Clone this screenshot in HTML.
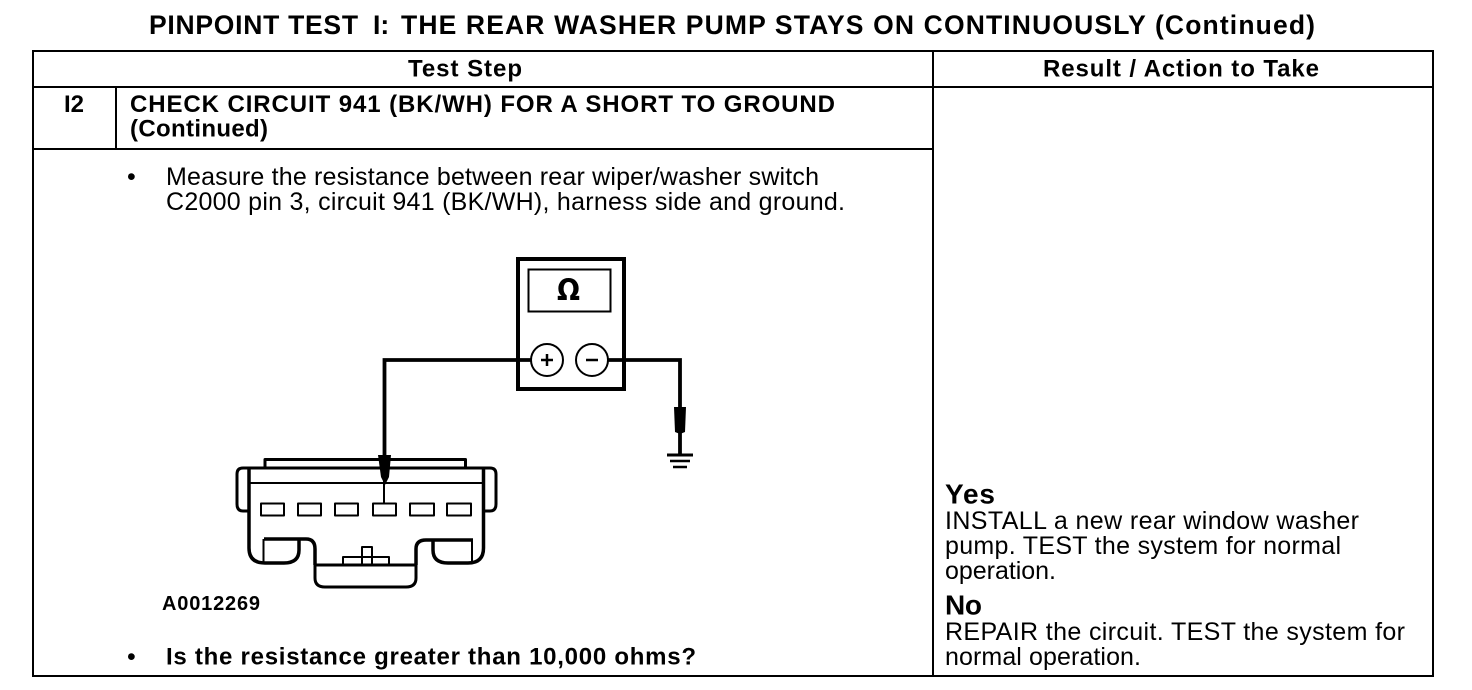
<!DOCTYPE html>
<html>
<head>
<meta charset="utf-8">
<style>
html,body{margin:0;padding:0;background:#fff;width:1472px;height:690px;overflow:hidden}
svg{display:block}
text{font-family:"Liberation Sans",sans-serif;fill:#000;stroke:none}
.b{font-weight:bold}
.s{font-size:25px}
</style>
</head>
<body>
<svg width="1472" height="690" viewBox="0 0 1472 690" xmlns="http://www.w3.org/2000/svg">
<rect width="1472" height="690" fill="#fff"/>

<!-- Title -->
<text class="b" x="149" y="34" font-size="26.500" textLength="209">PINPOINT TEST</text>
<text class="b" x="373" y="34" font-size="26.500">I:</text>
<text class="b" x="401" y="34" font-size="26.500" textLength="914">THE REAR WASHER PUMP STAYS ON CONTINUOUSLY (Continued)</text>

<!-- Table -->
<g fill="none" stroke="#000" stroke-width="2">
<rect x="33" y="51" width="1400" height="625"/>
<path d="M33 87H1433M933 51V676M116 87V149M33 149H933"/>
</g>

<text class="b" x="408" y="76.500" font-size="24" textLength="114">Test Step</text>
<text class="b" x="1043" y="76.500" font-size="24" textLength="276">Result / Action to Take</text>
<text class="b" x="64" y="112" font-size="24" textLength="20">I2</text>
<text class="b" x="130" y="112" font-size="24" textLength="705">CHECK CIRCUIT 941 (BK/WH) FOR A SHORT TO GROUND</text>
<text class="b" x="130" y="136.500" font-size="24" textLength="138">(Continued)</text>

<text class="s" x="127" y="185">•</text>
<text class="s" x="166" y="185" textLength="653">Measure the resistance between rear wiper/washer switch</text>
<text class="s" x="166" y="210" textLength="679">C2000 pin 3, circuit 941 (BK/WH), harness side and ground.</text>

<!-- Meter -->
<rect x="518" y="259" width="106" height="130" fill="none" stroke="#000" stroke-width="4"/>
<rect x="528.500" y="269.500" width="82" height="42" fill="none" stroke="#000" stroke-width="2"/>
<text x="557" y="300" font-size="29" font-weight="bold" textLength="23" lengthAdjust="spacingAndGlyphs" style="font-family:'DejaVu Sans',sans-serif">Ω</text>
<path d="M384.500 455V360H531M608 360H680V455" fill="none" stroke="#000" stroke-width="3.800"/>
<circle cx="547" cy="360" r="16" fill="#fff" stroke="#000" stroke-width="2"/>
<circle cx="592" cy="360" r="16" fill="#fff" stroke="#000" stroke-width="2"/>
<path d="M541 360H553M547 354V366M586 360H598" fill="none" stroke="#000" stroke-width="2.500"/>
<path d="M674 407H686L685 432L680 434L675 432Z" fill="#000"/>
<path d="M667 455H693" stroke="#000" stroke-width="3"/>
<path d="M670 461H690" stroke="#000" stroke-width="2.500"/>
<path d="M673 467H687" stroke="#000" stroke-width="2.500"/>

<!-- Connector -->
<g fill="none" stroke="#000" stroke-linejoin="round">
<g stroke-width="3">
<path d="M265 468V459.500H465.500V468"/>
<path d="M249 468H484"/>
<path d="M249 468H243Q237 468 237 474V504Q237 511 243 511H249"/>
<path d="M484 468H490Q496 468 496 474V504Q496 511 490 511H484"/>
<path d="M315 565H416"/>
<path d="M315 565V578Q315 587 325 587H406Q416 587 416 578V565"/>
</g>
<path d="M249 468V548Q249 563 265 563H284Q299 563 299 550V539M264 539H306Q315 539 315 549V565" stroke-width="3.500"/>
<path d="M483.500 468V548Q483.500 563 468 563H448Q433 563 433 550V540M473 540H426Q416 540 416 549V565" stroke-width="3.500"/>
<g stroke-width="2">
<path d="M250 483H483"/>
<path d="M263.500 539V563M472 540V563"/>
<rect x="261" y="503.500" width="23" height="12"/>
<rect x="298" y="503.500" width="23" height="12"/>
<rect x="335" y="503.500" width="23" height="12"/>
<rect x="373" y="503.500" width="23" height="12"/>
<rect x="410" y="503.500" width="24" height="12"/>
<rect x="447" y="503.500" width="24" height="12"/>
<path d="M343 565V557H389V565"/>
<path d="M362 565V547H372V565"/>
<path d="M384 478V503"/>
</g>
</g>
<path d="M378 455H391L389 477L385 485L381 477Z" fill="#000"/>

<text class="b" x="162" y="610" font-size="20" textLength="98">A0012269</text>

<text class="s" x="127" y="665">•</text>
<text class="b" x="166" y="664.500" font-size="24" textLength="530">Is the resistance greater than 10,000 ohms?</text>

<!-- Right column -->
<text class="b" x="945" y="503.500" font-size="28" textLength="50">Yes</text>
<text class="s" x="945" y="529" textLength="414">INSTALL a new rear window washer</text>
<text class="s" x="945" y="554" textLength="396">pump. TEST the system for normal</text>
<text class="s" x="945" y="579" textLength="111">operation.</text>
<text class="b" x="945" y="614.500" font-size="28" textLength="37">No</text>
<text class="s" x="945" y="640" textLength="460">REPAIR the circuit. TEST the system for</text>
<text class="s" x="945" y="665" textLength="196">normal operation.</text>
</svg>
</body>
</html>
